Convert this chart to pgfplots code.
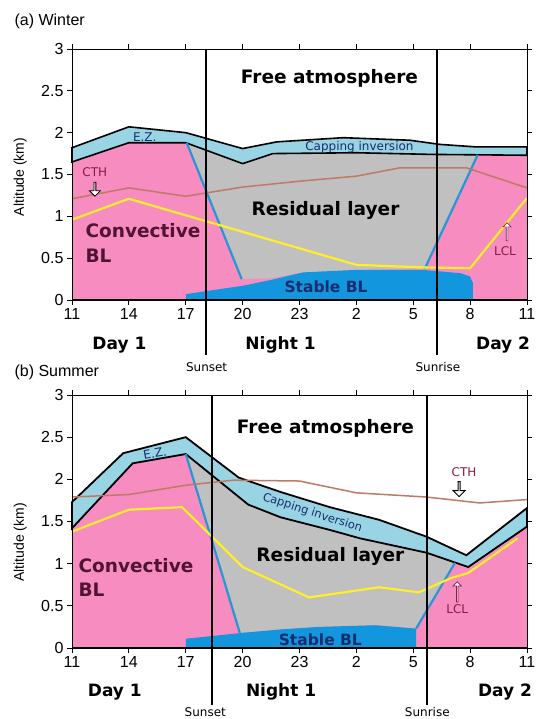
\documentclass[border=0pt]{standalone}
\usepackage{pgfplots}
\pgfplotsset{compat=1.18}
\usepackage{fontspec}
\setmainfont{Liberation Sans}
\newfontfamily\dv{DejaVu Sans}
\usetikzlibrary{shapes.arrows}
\definecolor{pinkBL}{RGB}{247,140,192}
\definecolor{grayRL}{RGB}{192,192,192}
\definecolor{capblue}{RGB}{152,212,228}
\definecolor{stableblue}{RGB}{18,150,222}
\definecolor{lineblue}{RGB}{40,150,212}
\definecolor{cthbrown}{RGB}{190,122,100}
\definecolor{lclyellow}{RGB}{255,238,40}
\definecolor{cbl}{RGB}{80,20,50}
\definecolor{navytxt}{RGB}{25,45,110}
\definecolor{lblm}{RGB}{130,30,70}
\pgfplotsset{
 panel/.style={
  scale only axis, width=455pt,
  xmin=11, xmax=35, ymin=0, ymax=3,
  xtick={11,14,17,20,23,26,29,32,35},
  xticklabels={11,14,17,20,23,2,5,8,11},
  ytick={0,0.5,1,1.5,2,2.5,3},
  yticklabels={0,0.5,1,1.5,2,2.5,3},
  tick align=outside, major tick length=5pt,
  tick style={black, line width=0.8pt},
  tick label style={font=\fontsize{16}{16}\selectfont},
  /pgf/number format/assume math mode=true,
  axis line style={line width=0.8pt},
  clip=false, axis on top,
  ylabel={Altitude (km)},
  ylabel style={anchor=center, font=\fontsize{14}{14}\selectfont},
 },
}
\tikzset{
 big/.style={font=\dv\bfseries\fontsize{18.5}{18.5}\selectfont},
 day/.style={font=\dv\bfseries\fontsize{17}{17}\selectfont},
 small/.style={font=\dv\fontsize{12}{12}\selectfont},
}
\begin{document}
\begin{tikzpicture}
\useasboundingbox (0,0) rectangle (537pt,-719pt);
% ================= (a) Winter =================
\begin{axis}[panel, at={(72pt,-300pt)}, anchor=south west, height=251pt,
  ylabel style={at={(axis description cs:-0.114,0.49)}}]
% convective BL (pink)
\addplot[fill=pinkBL, draw=none] coordinates {(11,0) (11,1.65) (14,1.88) (17,1.88) (20,1.63) (21.6,1.75) (26,1.76) (30,1.74) (35,1.73) (35,0)} -- cycle;
% residual layer (gray)
\addplot[fill=grayRL, draw=none] coordinates {(17.05,1.88) (20,1.63) (21.6,1.75) (26,1.76) (30,1.74) (32.4,1.735) (29.6,0.37) (26,0.36) (23.2,0.33) (21.5,0.26) (19.95,0.25)} -- cycle;
% stable BL
\addplot[fill=stableblue, draw=none] coordinates {(17,0) (17,0.07) (20,0.17) (21.5,0.24) (23.2,0.33) (26,0.36) (29.5,0.36) (31.5,0.32) (32.0,0.28) (32.15,0.2) (32.15,0)} -- cycle;
% capping inversion band
\addplot[fill=capblue, draw=black, line width=1.6pt] coordinates {(11,1.82) (14,2.07) (17,2.00) (20,1.81) (21.8,1.89) (25.3,1.94) (28.8,1.91) (30.4,1.86) (32.3,1.83) (35,1.83) (35,1.73) (30,1.74) (26,1.76) (21.6,1.75) (20,1.63) (17,1.88) (14,1.88) (11,1.65)} -- cycle;
% transition lines (blue)
\addplot[lineblue, line width=2.2pt] coordinates {(17.05,1.88) (19.95,0.25)};
\addplot[lineblue, line width=2.2pt] coordinates {(29.6,0.37) (32.4,1.735)};
% CTH
\addplot[cthbrown, line width=1.5pt] coordinates {(11,1.21) (14,1.34) (17,1.24) (20,1.35) (23,1.42) (26,1.48) (28.3,1.58) (31.8,1.58) (35,1.34)};
% LCL
\addplot[lclyellow, line width=2.2pt] coordinates {(11,0.96) (14,1.21) (26,0.42) (29.5,0.39) (32,0.38) (35,1.22)};
% sunset / sunrise
\addplot[black, line width=1.8pt] coordinates {(18.05,3) (18.05,-0.66)};
\addplot[black, line width=1.8pt] coordinates {(30.26,3) (30.26,-0.66)};
\draw[black, line width=2pt] (rel axis cs:0,0) -- (rel axis cs:1,0);
% texts
\node[anchor=west, font=\fontsize{16}{16}\selectfont] at (axis description cs:-0.134,1.112) {(a) Winter};
\node[big] at (axis cs:24.58,2.65) {Free atmosphere};
\node[big] at (axis cs:24.37,1.075) {Residual layer};
\node[big, text=cbl, anchor=base west] at (axis cs:11.53,0.75) {Convective};
\node[big, text=cbl, anchor=base west] at (axis cs:11.53,0.45) {BL};
\node[font=\dv\bfseries\fontsize{15.5}{15.5}\selectfont, text=navytxt] at (axis cs:24.4,0.16) {Stable BL};
\node[small, text=navytxt] at (axis cs:26.16,1.83) {Capping inversion};
\node[small, text=navytxt] at (axis cs:14.84,1.95) {E.Z.};
\node[small, text=lblm] at (axis cs:12.2,1.53) {CTH};
\node[single arrow, draw=black, fill=white, rotate=-90, minimum height=14pt, minimum width=11pt, single arrow head extend=2pt, inner sep=0pt, line width=0.8pt] at (axis cs:12.21,1.33) {};
\node[small, text=lblm] at (axis cs:33.84,0.585) {LCL};
\node[single arrow, draw=lblm, fill=white, rotate=90, minimum height=18pt, minimum width=8pt, single arrow head extend=1.5pt, inner sep=0pt, line width=0.7pt] at (axis cs:33.95,0.81) {};
\node[day] at (axis cs:13.5,-0.54) {Day 1};
\node[day] at (axis cs:22.0,-0.54) {Night 1};
\node[day] at (axis cs:33.74,-0.54) {Day 2};
\node[small] at (axis cs:18.1,-0.80) {Sunset};
\node[small] at (axis cs:30.3,-0.80) {Sunrise};
\end{axis}
% ================= (b) Summer =================
\begin{axis}[panel, at={(72pt,-648pt)}, anchor=south west, height=253pt,
  ylabel style={at={(axis description cs:-0.114,0.417)}}]
\addplot[fill=pinkBL, draw=none] coordinates {(11,0) (11,1.42) (14.2,2.19) (17,2.30) (20.3,1.70) (22,1.55) (24.6,1.40) (26.2,1.30) (29.7,1.13) (31.9,0.96) (35,1.44) (35,0)} -- cycle;
\addplot[fill=grayRL, draw=none] coordinates {(17,2.30) (20.3,1.70) (22,1.55) (24.6,1.40) (26.2,1.30) (29.7,1.13) (31.2,1.01) (29.15,0.23) (27,0.27) (24,0.25) (22,0.22) (19.85,0.18)} -- cycle;
\addplot[fill=stableblue, draw=none] coordinates {(17,0) (17,0.11) (20,0.18) (22,0.22) (24,0.25) (27,0.27) (29.15,0.23) (29.15,0)} -- cycle;
\addplot[fill=capblue, draw=black, line width=1.8pt] coordinates {(11,1.73) (13.7,2.31) (17,2.50) (19.8,2.02) (22,1.85) (24.6,1.67) (27.2,1.52) (29.7,1.32) (31.8,1.10) (35,1.66) (35,1.44) (31.9,0.96) (29.7,1.13) (26.2,1.30) (24.6,1.40) (22,1.55) (20.3,1.70) (17,2.30) (14.2,2.19) (11,1.42)} -- cycle;
\addplot[lineblue, line width=2.2pt] coordinates {(17,2.30) (19.85,0.18)};
\addplot[lineblue, line width=2.2pt] coordinates {(29.15,0.23) (31.2,1.01)};
\addplot[cthbrown, line width=1.5pt] coordinates {(11,1.79) (14,1.82) (17,1.93) (19.5,1.99) (23,1.98) (26,1.84) (29.7,1.79) (32.5,1.72) (35,1.76)};
\addplot[lclyellow, line width=2.2pt] coordinates {(11,1.38) (14,1.64) (16.8,1.67) (18.3,1.34) (20,0.96) (23.5,0.60) (27.2,0.72) (29.3,0.66) (31,0.83) (31.9,0.89) (34.5,1.30)};
\addplot[black, line width=1.8pt] coordinates {(18.37,3) (18.37,-0.68)};
\addplot[black, line width=1.8pt] coordinates {(29.74,3) (29.74,-0.68)};
\draw[black, line width=2pt] (rel axis cs:0,0) -- (rel axis cs:1,0);
\node[anchor=west, font=\fontsize{16}{16}\selectfont] at (axis description cs:-0.134,1.091) {(b) Summer};
\node[big] at (axis cs:24.37,2.60) {Free atmosphere};
\node[big] at (axis cs:24.63,1.09) {Residual layer};
\node[big, text=cbl, anchor=base west] at (axis cs:11.16,0.89) {Convective};
\node[big, text=cbl, anchor=base west] at (axis cs:11.16,0.61) {BL};
\node[font=\dv\bfseries\fontsize{15.5}{15.5}\selectfont, text=navytxt] at (axis cs:24.1,0.095) {Stable BL};
\node[font=\dv\fontsize{11.5}{11.5}\selectfont, text=navytxt, rotate=-18, inner sep=0pt] at (axis cs:23.68,1.60) {Capping inversion};
\node[small, text=navytxt, rotate=10] at (axis cs:15.37,2.31) {E.Z.};
\node[small, text=lblm] at (axis cs:31.68,2.09) {CTH};
\node[single arrow, draw=black, fill=white, rotate=-90, minimum height=15pt, minimum width=12pt, single arrow head extend=2pt, inner sep=0pt, line width=0.8pt] at (axis cs:31.42,1.89) {};
\node[small, text=lblm] at (axis cs:31.32,0.46) {LCL};
\node[single arrow, draw=lblm, fill=white, rotate=90, minimum height=20pt, minimum width=8pt, single arrow head extend=1.5pt, inner sep=0pt, line width=0.7pt] at (axis cs:31.32,0.66) {};
\node[day] at (axis cs:13.26,-0.52) {Day 1};
\node[day] at (axis cs:22.03,-0.52) {Night 1};
\node[day] at (axis cs:33.84,-0.52) {Day 2};
\node[small] at (axis cs:18.03,-0.76) {Sunset};
\node[small] at (axis cs:29.74,-0.76) {Sunrise};
\end{axis}
\end{tikzpicture}
\end{document}
